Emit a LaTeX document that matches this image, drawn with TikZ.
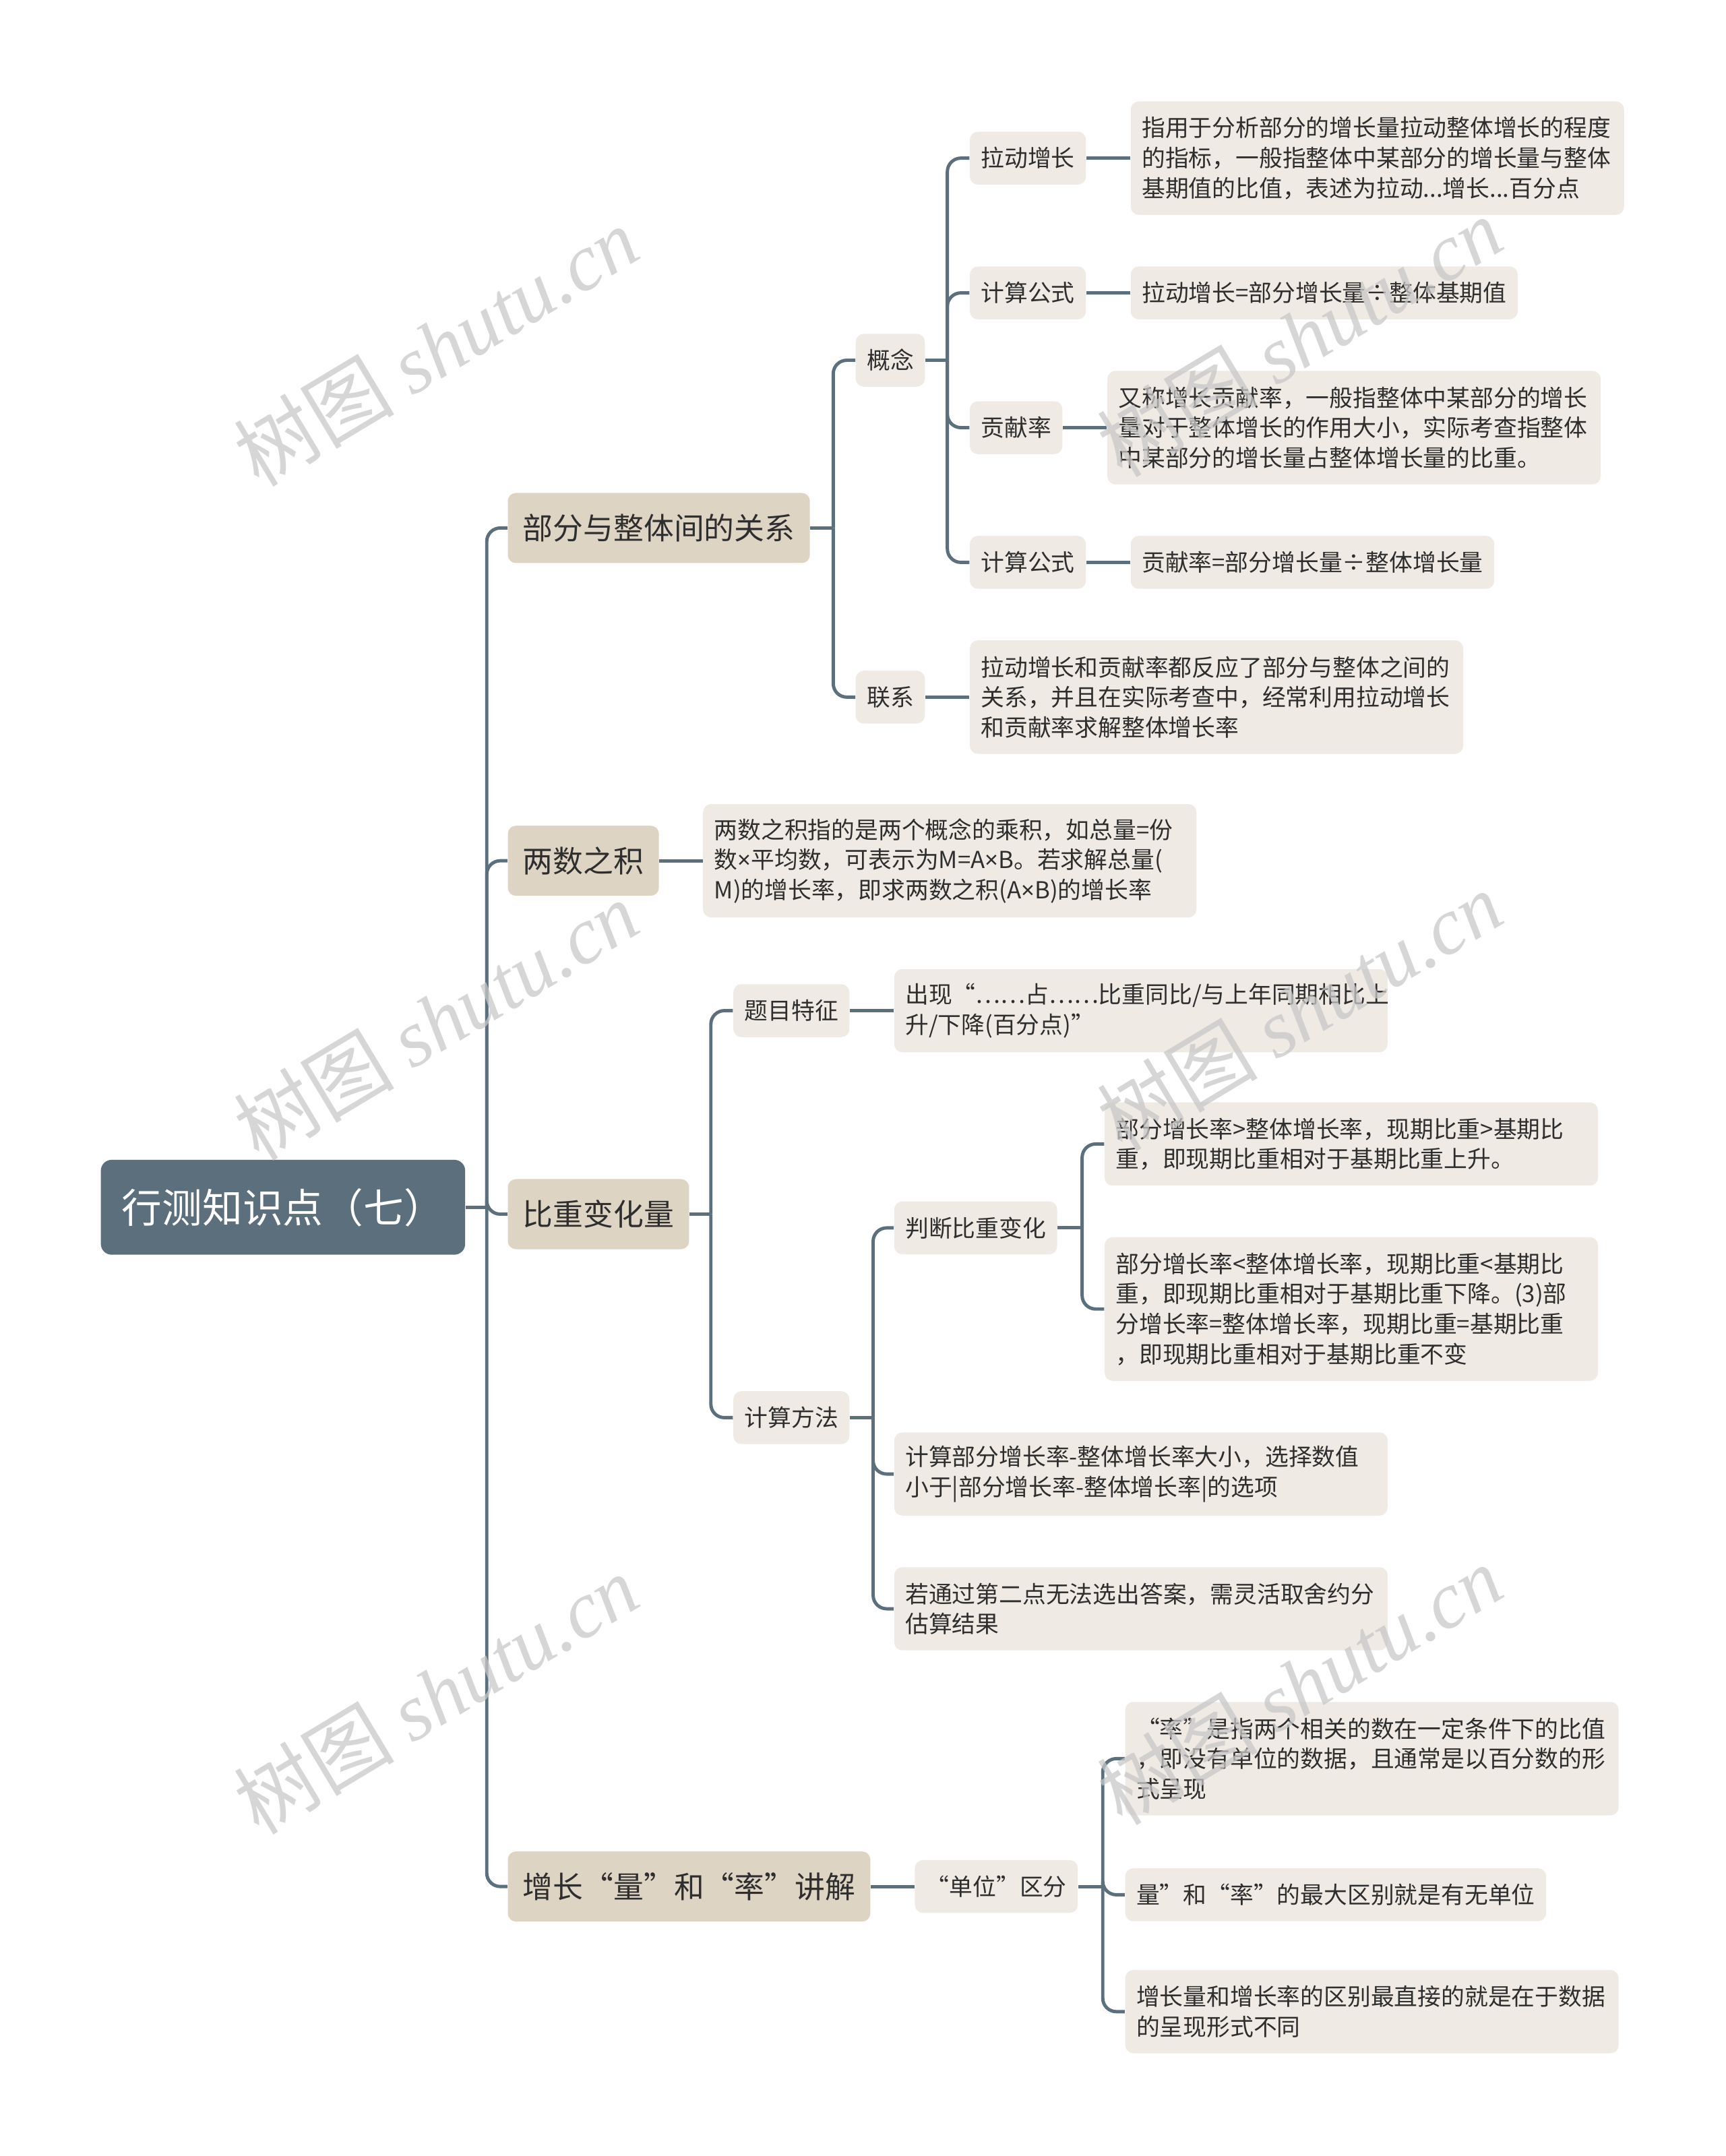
\documentclass[tikz,border=0pt]{standalone}
\usepackage{fontspec}
\setmainfont{Noto Sans CJK SC}
\newfontfamily\wmlatin{Liberation Serif}
\newfontfamily\latinf{Noto Sans}
\newcommand\tms{{\latinf ×}}
\definecolor{rootc}{HTML}{5C6F7C}
\definecolor{linec}{HTML}{5C6F7C}
\definecolor{lvone}{HTML}{DED4C4}
\definecolor{lvtwo}{HTML}{EFEBE4}
\definecolor{txtc}{HTML}{2E2E2E}
\definecolor{wmc}{HTML}{C8C8C8}
\begin{document}
\begin{tikzpicture}[x=0.020398cm, y=-0.020398cm,
  rootbox/.style={fill=rootc, text=white, rounded corners=0.16cm, anchor=west,
    font=\fontsize{17pt}{20pt}\selectfont, minimum width=5.405cm, minimum height=1.4075cm, inner sep=0pt},
  onebox/.style={fill=lvone, text=txtc, rounded corners=0.12cm, anchor=west,
    font=\fontsize{12.75pt}{15pt}\selectfont, inner xsep=0.224cm, inner ysep=2pt, minimum height=1.04cm},
  twobox/.style={fill=lvtwo, text=txtc, rounded corners=0.12cm, anchor=west, align=left,
    font=\fontsize{9.9pt}{12.7pt}\selectfont, inner xsep=0.165cm, inner ysep=2pt, minimum height=0.785cm},
  wide/.style={twobox, text width=6.99cm},
  ltwo/.style={wide, minimum height=1.234cm},
  lthree/.style={wide, minimum height=1.683cm},
  lfour/.style={wide, minimum height=2.132cm},
  conn/.style={draw=linec, line width=1.4pt, rounded corners=0.2cm},
  wm/.style={text=wmc, opacity=0.75, rotate=31, font=\fontsize{34pt}{38pt}\selectfont}
]
\useasboundingbox (0,0) rectangle (1255,1568);

% root and level 1
\node[rootbox] (root) at (73,878) {行测知识点（七）};
\node[onebox] (a) at (369,384) {部分与整体间的关系};
\node[onebox] (b) at (369,626) {两数之积};
\node[onebox] (c) at (369,883) {比重变化量};
\node[onebox] (d) at (369,1372) {增长“量”和“率”讲解};

% branch a
\node[twobox] (a1) at (622,262) {概念};
\node[twobox] (a2) at (622,507) {联系};
\node[twobox] (a11) at (705,115) {拉动增长};
\node[twobox] (a12) at (705,213) {计算公式};
\node[twobox] (a13) at (705,311) {贡献率};
\node[twobox] (a14) at (705,409) {计算公式};
\node[lthree] (a11l) at (822,115) {指用于分析部分的增长量拉动整体增长的程度\\的指标，一般指整体中某部分的增长量与整体\\基期值的比值，表述为拉动...增长...百分点};
\node[twobox] (a12l) at (822,213) {拉动增长=部分增长量÷整体基期值};
\node[lthree] (a13l) at (805,311) {又称增长贡献率，一般指整体中某部分的增长\\量对于整体增长的作用大小，实际考查指整体\\中某部分的增长量占整体增长量的比重。};
\node[twobox] (a14l) at (822,409) {贡献率=部分增长量÷整体增长量};
\node[lthree] (a2l) at (705,507) {拉动增长和贡献率都反应了部分与整体之间的\\关系，并且在实际考查中，经常利用拉动增长\\和贡献率求解整体增长率};

% branch b
\node[lthree] (bl) at (511,626) {两数之积指的是两个概念的乘积，如总量=份\\数\tms 平均数，可表示为M=A\tms B。若求解总量(\\M)的增长率，即求两数之积(A\tms B)的增长率};

% branch c
\node[twobox] (c1) at (533,735) {题目特征};
\node[twobox] (c2) at (533,1031) {计算方法};
\node[ltwo] (c1l) at (650,735) {出现“……占……比重同比/与上年同期相比上\\升/下降(百分点)”};
\node[twobox] (c21) at (650,893) {判断比重变化};
\node[ltwo] (c22) at (650,1072) {计算部分增长率-整体增长率大小，选择数值\\小于|部分增长率-整体增长率|的选项};
\node[ltwo] (c23) at (650,1170) {若通过第二点无法选出答案，需灵活取舍约分\\估算结果};
\node[ltwo] (c211) at (803,832) {部分增长率>整体增长率，现期比重>基期比\\重，即现期比重相对于基期比重上升。};
\node[lfour] (c212) at (803,952) {部分增长率<整体增长率，现期比重<基期比\\重，即现期比重相对于基期比重下降。(3)部\\分增长率=整体增长率，现期比重=基期比重\\，即现期比重相对于基期比重不变};

% branch d
\node[twobox] (d1) at (665,1372) {“单位”区分};
\node[lthree] (d11) at (818,1279) {“率”是指两个相关的数在一定条件下的比值\\，即没有单位的数据，且通常是以百分数的形\\式呈现};
\node[twobox] (d12) at (818,1378) {量”和“率”的最大区别就是有无单位};
\node[ltwo] (d13) at (818,1463) {增长量和增长率的区别最直接的就是在于数据\\的呈现形式不同};

% junction points
\coordinate (t0) at (354,878);
\coordinate (t1) at (606,384);
\coordinate (t2) at (689,262);
\coordinate (t3) at (517,883);
\coordinate (t4) at (635,1031);
\coordinate (t5) at (787,893);
\coordinate (t6) at (802,1372);

% connectors
\draw[conn] (root.east) -- (t0);
\foreach \n in {a,b,c,d} \draw[conn] (t0) |- (\n.west);
\draw[conn] (a.east) -- (t1);
\foreach \n in {a1,a2} \draw[conn] (t1) |- (\n.west);
\draw[conn] (a1.east) -- (t2);
\foreach \n in {a11,a12,a13,a14} \draw[conn] (t2) |- (\n.west);
\draw[conn] (a11.east) -- (a11l.west);
\draw[conn] (a12.east) -- (a12l.west);
\draw[conn] (a13.east) -- (a13l.west);
\draw[conn] (a14.east) -- (a14l.west);
\draw[conn] (a2.east) -- (a2l.west);
\draw[conn] (b.east) -- (bl.west);
\draw[conn] (c.east) -- (t3);
\foreach \n in {c1,c2} \draw[conn] (t3) |- (\n.west);
\draw[conn] (c1.east) -- (c1l.west);
\draw[conn] (c2.east) -- (t4);
\foreach \n in {c21,c22,c23} \draw[conn] (t4) |- (\n.west);
\draw[conn] (c21.east) -- (t5);
\foreach \n in {c211,c212} \draw[conn] (t5) |- (\n.west);
\draw[conn] (d.east) -- (d1.west);
\draw[conn] (d1.east) -- (t6);
\foreach \n in {d11,d12,d13} \draw[conn] (t6) |- (\n.west);

% watermarks
\node[wm] (wm1) at (317,252) {树图 {\wmlatin\itshape shutu.cn}};
\node[wm] (wm2) at (945,245) {树图 {\wmlatin\itshape shutu.cn}};
\node[wm] (wm3) at (317,742) {树图 {\wmlatin\itshape shutu.cn}};
\node[wm] (wm4) at (945,735) {树图 {\wmlatin\itshape shutu.cn}};
\node[wm] (wm5) at (317,1232) {树图 {\wmlatin\itshape shutu.cn}};
\node[wm] (wm6) at (945,1225) {树图 {\wmlatin\itshape shutu.cn}};
\end{tikzpicture}
\end{document}
